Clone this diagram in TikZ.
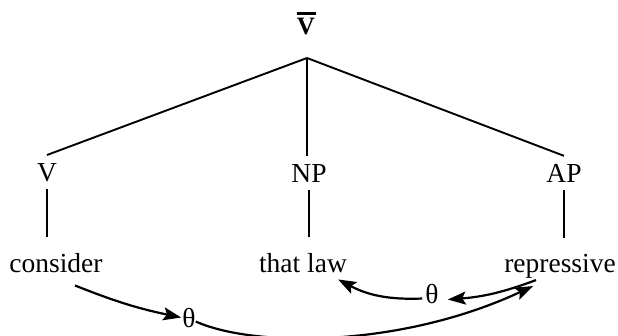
\documentclass[tikz,border=0pt]{standalone}
\usepackage{fontspec}
\setmainfont{Liberation Serif}
\usetikzlibrary{arrows.meta,calc}
\begin{document}
\begin{tikzpicture}[x=1pt,y=-1pt,
  every node/.style={font=\fontsize{27.5}{33}\selectfont, inner sep=0pt},
  cat/.style={anchor=base, outer sep=8pt},
  leaf/.style={anchor=base},
  th/.style={anchor=base},
  tree/.style={line width=1.9pt},
  arr/.style={line width=2.2pt, -{Stealth[length=18pt,width=13pt,inset=3.5pt]}}]
\useasboundingbox (0,0) rectangle (618,335);
% nodes
\node[anchor=base, font=\fontsize{25}{30}\selectfont\bfseries] (Vbar) at (306,34)
  {\ooalign{\hfil V\hfil\cr\hfil\rule[19.5pt]{19pt}{2.6pt}\hfil\cr}};
\coordinate (apex) at (307,58);
\node[cat] (V) at (47,181) {V};
\node[cat] (NP) at (309,182) {NP};
\node[cat] (AP) at (564,182) {AP};
\node[leaf] (consider) at (56,272) {consider};
\node[leaf] (law) at (303,272) {that law};
\node[leaf] (rep) at (560,272) {repressive};
\node[th] (th1) at (189,327) {θ};
\node[th] (th2) at (432,303) {θ};
% tree
\draw[tree] (apex) -- (V.north);
\draw[tree] (apex) -- (apex |- NP.north);
\draw[tree] (apex) -- (AP.north);
\draw[tree, shorten >=16pt] (V.south) -- (V.south |- consider.north);
\draw[tree, shorten >=16pt] (NP.south) -- (NP.south |- law.north);
\draw[tree, shorten >=16pt] (AP.south) -- (AP.south |- rep.north);
% theta arrows
\draw[arr] ([xshift=19pt,yshift=-13pt]consider.south) to[bend right=5] ([xshift=-1pt]th1.west);
\draw[arr] ([yshift=-4pt]th1.east) .. controls +(58,26) and +(-133,62) .. ([xshift=-27pt,yshift=-8pt]rep.south);
\draw[arr] ([xshift=-24pt,yshift=-2pt]rep.south) to[bend left=8] ([xshift=9pt,yshift=-6pt]th2.east);
\draw[arr] ([xshift=-3pt,yshift=-5pt]th2.west) to[bend left=15] ([xshift=-9pt,yshift=-7pt]law.south east);
\end{tikzpicture}
\end{document}
